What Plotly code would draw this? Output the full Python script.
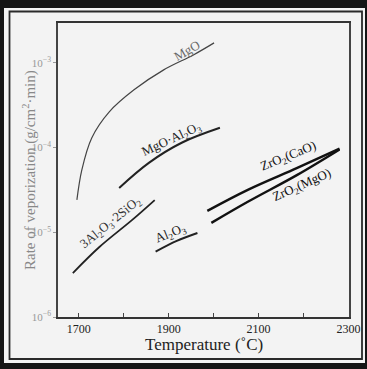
import plotly.graph_objects as go

# ---- data ----
mgo_T = [1696, 1707, 1729, 1768, 1823, 1889, 1955, 2001]
mgo_rate = [2.41e-5, 5.46e-5, 1.30e-4, 2.64e-4, 4.80e-4, 8.26e-4, 1.24e-3, 1.72e-3]

spinel_T = [1790, 1856, 1929, 2014]
spinel_rate = [3.34e-5, 6.6e-5, 1.14e-4, 1.71e-4]

mullite_T = [1687, 1746, 1819, 1869]
mullite_rate = [3.3e-6, 6.7e-6, 1.4e-5, 2.4e-5]

alumina_T = [1871, 1918, 1964]
alumina_rate = [5.9e-6, 7.9e-6, 9.8e-6]

zr_cao_T = [1986, 2076, 2186, 2280]
zr_cao_rate = [1.79e-5, 3.17e-5, 5.75e-5, 9.7e-5]

zr_mgo_T = [1995, 2076, 2186, 2280]
zr_mgo_rate = [1.29e-5, 2.29e-5, 4.76e-5, 9.5e-5]

x_tickvals = [1700, 1800, 1900, 2000, 2100, 2200, 2300]
x_ticktext = ["1700", "", "1900", "", "2100", "", "2300"]
y_tickvals = [1e-6, 1e-5, 1e-4, 1e-3]
y_ticktext = ["10<sup>−6</sup>", "10<sup>−5</sup>", "10<sup>−4</sup>", "10<sup>−3</sup>"]

# label: text, T, log10(rate), angle, color
labels = [
    ("MgO", 1940, -2.85, -30, "#666"),
    ("MgO·Al<sub>2</sub>O<sub>3</sub>", 1907, -3.91, -25, "#222"),
    ("3Al<sub>2</sub>O<sub>3</sub>·2SiO<sub>2</sub>", 1772, -4.89, -39, "#333"),
    ("Al<sub>2</sub>O<sub>3</sub>", 1905, -5.02, -22, "#222"),
    ("ZrO<sub>2</sub>(CaO)", 2166, -4.10, -22, "#111"),
    ("ZrO<sub>2</sub>(MgO)", 2196, -4.45, -24, "#111"),
]

W, H = 367, 369
L, R, T, B = 58, 349, 23, 317


def px(x):
    return (x - L) / (R - L)


def py(y):
    return (B - y) / (B - T)


fig = go.Figure()
series = [
    (mgo_T, mgo_rate, 1.2, "#444"),
    (spinel_T, spinel_rate, 2.0, "#222"),
    (mullite_T, mullite_rate, 1.8, "#222"),
    (alumina_T, alumina_rate, 2.0, "#222"),
    (zr_cao_T, zr_cao_rate, 2.4, "#111"),
    (zr_mgo_T, zr_mgo_rate, 2.4, "#111"),
]
for xs, ys, w, c in series:
    fig.add_trace(go.Scatter(x=xs, y=ys, mode="lines",
                             line=dict(color=c, width=w, shape="spline", smoothing=1.0),
                             showlegend=False, hoverinfo="skip"))

serif = "Liberation Serif"
for text, tx, ty, ang, col in labels:
    fig.add_annotation(x=tx, y=ty, xref="x", yref="y", text=text, showarrow=False,
                       textangle=ang, font=dict(family=serif, size=13, color=col))

# axis titles
fig.add_annotation(x=px(29), y=0.5, xref="paper", yref="paper", xanchor="center", yanchor="middle",
                   text="Rate of veporization (g/cm<sup>2</sup>·min)", textangle=-90,
                   showarrow=False, font=dict(family=serif, size=15, color="#888"))
fig.add_annotation(x=0.5, y=py(344), xref="paper", yref="paper", xanchor="center", yanchor="middle",
                   text="Temperature (˚C)", showarrow=False,
                   font=dict(family=serif, size=17, color="#222"))

# photo frame
shapes = [
    dict(type="rect", xref="paper", yref="paper", x0=px(4), x1=px(365), y0=py(363), y1=py(8),
         fillcolor="#f3f3f3", line=dict(width=0), layer="below"),
    dict(type="rect", xref="paper", yref="paper", x0=px(9.5), x1=px(362), y0=py(359), y1=py(11.5),
         fillcolor="rgba(0,0,0,0)", line=dict(color="#2a2a2a", width=1.8), layer="below"),
]

fig.update_layout(
    template="none",
    width=W, height=H,
    margin=dict(l=L, r=W - R, t=T, b=H - B, pad=0),
    paper_bgcolor="#151515",
    plot_bgcolor="#f7f7f7",
    shapes=shapes,
    xaxis=dict(range=[1654, 2301], tickvals=x_tickvals, ticktext=x_ticktext,
               ticks="inside", ticklen=4, tickcolor="#444", showgrid=False, zeroline=False,
               showline=True, linecolor="#333", linewidth=1.5, mirror=True, automargin=False,
               tickfont=dict(family=serif, size=12, color="#222")),
    yaxis=dict(type="log", range=[-6, -2.53], tickvals=y_tickvals, ticktext=y_ticktext,
               ticks="outside", ticklen=3, tickcolor="#999", showgrid=False, zeroline=False,
               showline=True, linecolor="#444", linewidth=1.5, mirror=True, automargin=False,
               tickfont=dict(family=serif, size=11, color="#999")),
)

fig.write_html("out.html", config={"displayModeBar": False},
               post_script="document.body.style.margin='0';document.body.style.padding='0';")
